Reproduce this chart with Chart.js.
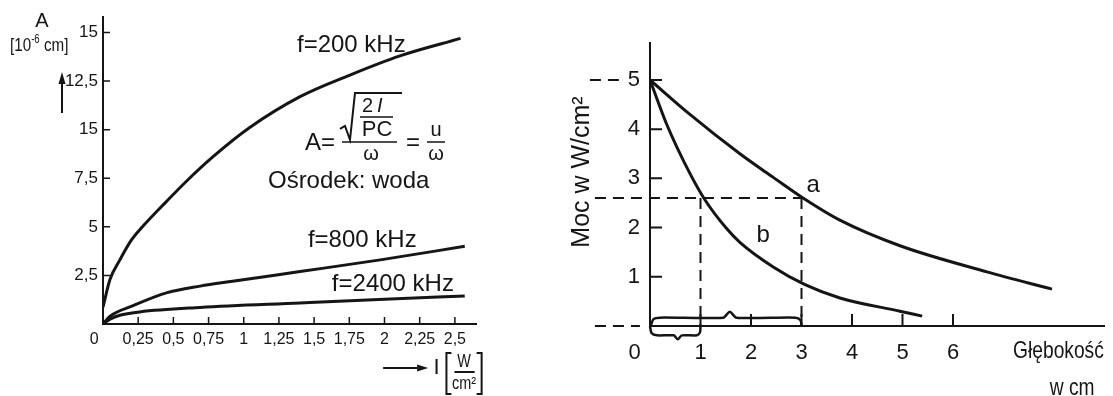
<!DOCTYPE html>
<html>
<head>
<meta charset="utf-8">
<script src="https://cdn.jsdelivr.net/npm/chart.js@4.4.1/dist/chart.umd.min.js"></script>
<style>
  html, body { margin: 0; padding: 0; background: #fff; }
  #wrap { position: relative; width: 1113px; height: 396px; overflow: hidden; }
  #lewy { position: absolute; left: 0; top: 0; }
  #prawy { position: absolute; left: 540px; top: 0; }
</style>
</head>
<body>
<div id="wrap">
  <canvas id="lewy" width="540" height="396"></canvas>
  <canvas id="prawy" width="573" height="396"></canvas>
</div>
<script>
// ---- dane: lewy wykres (amplituda A w funkcji natężenia I) ----
const serieLewe = ['f=200 kHz', 'f=800 kHz', 'f=2400 kHz'];

const natezenie200 = [0, 0.05, 0.12, 0.2, 0.28, 0.45, 0.6, 0.78, 1.04, 1.4, 1.75, 2.11, 2.54];
const amplituda200 = [0.87, 2.3, 3.3, 4.3, 5.0, 6.3, 7.4, 8.6, 10.1, 11.7, 12.8, 13.8, 14.7];

const natezenie800 = [0, 0.05, 0.21, 0.45, 0.69, 0.92, 1.4, 1.97, 2.57];
const amplituda800 = [0, 0.4, 0.93, 1.6, 1.95, 2.2, 2.7, 3.3, 4.0];

const natezenie2400 = [0, 0.05, 0.12, 0.26, 0.69, 1.4, 2.0, 2.57];
const amplituda2400 = [0, 0.25, 0.45, 0.62, 0.85, 1.08, 1.27, 1.44];

const tickiILewe = [0, 0.25, 0.5, 0.75, 1, 1.25, 1.5, 1.75, 2, 2.25, 2.5];
const etykietyILewe = ['0', '0,25', '0,5', '0,75', '1', '1,25', '1,5', '1,75', '2', '2,25', '2,5'];
const tickiALewe = [2.5, 5, 7.5, 10, 12.5, 15];
const etykietyALewe = ['2,5', '5', '7,5', '15', '12,5', '15'];

// ---- dane: prawy wykres (moc w funkcji głębokości) ----
const seriePrawe = ['a', 'b'];
const glebokoscA = [0, 0.79, 1.78, 2.44, 3.03, 3.76, 4.95, 6.67, 7.96];
const mocA = [5, 4.3, 3.5, 3.02, 2.6, 2.15, 1.63, 1.1, 0.75];
const glebokoscB = [0, 0.33, 0.79, 1.09, 1.5, 1.78, 2.44, 3.07, 3.76, 4.95, 5.39];
const mocB = [5, 4.1, 3.1, 2.56, 2.0, 1.7, 1.2, 0.84, 0.57, 0.3, 0.2];

// linie przerywane (prowadnice) i klamry przy osi głębokości
const prowadnica5X = [-1.19, -0.53];
const prowadnica5Y = [5, 5];
const prowadnicaPolX = [-1.09, 3];
const prowadnicaPolY = [2.6, 2.6];
const prowadnica0X = [-1.09, -0.2];
const prowadnica0Y = [0, 0];
const pion1X = [1, 1];
const pion3X = [3, 3];
const pionY = [2.6, 0];
const klamraGornaX = [0.02, 0.07, 0.2, 1.45, 1.58, 1.71, 2.88, 2.98, 3.0];
const klamraGornaY = [0.02, 0.14, 0.17, 0.17, 0.29, 0.17, 0.17, 0.12, 0.02];
const klamraDolnaX = [0.0, 0.03, 0.14, 0.47, 0.55, 0.63, 0.93, 0.99, 1.0];
const klamraDolnaY = [0.0, -0.14, -0.19, -0.19, -0.27, -0.19, -0.19, -0.13, 0.0];

const tickiGlebokosc = [0, 1, 2, 3, 4, 5, 6];
const etykietyGlebokosc = ['0', '1', '2', '3', '4', '5', '6'];
const tickiMoc = [1, 2, 3, 4, 5];
const etykietyMoc = ['1', '2', '3', '4', '5'];

// ---- wygląd ----
const INK = '#151515';
const SANS = "'Liberation Sans', Arial, sans-serif";

const punkty = (xs, ys) => xs.map((v, i) => ({ x: v, y: ys[i] }));

const krzywa = (label, xs, ys) => ({
  label, data: punkty(xs, ys),
  borderColor: INK, borderWidth: 3, pointRadius: 0,
  cubicInterpolationMode: 'monotone', fill: false
});

const przerywana = (xs, ys) => ({
  data: punkty(xs, ys),
  borderColor: INK, borderWidth: 2, borderDash: [11, 7],
  pointRadius: 0, tension: 0, clip: false, fill: false
});

const klamra = (xs, ys) => ({
  data: punkty(xs, ys),
  borderColor: INK, borderWidth: 2.5, pointRadius: 0,
  tension: 0.25, clip: false, fill: false
});

// krótkie kreski podziałki skierowane do wnętrza wykresu
const tickiDoSrodka = {
  id: 'tickiDoSrodka',
  afterDraw(chart, args, opts) {
    const { ctx, chartArea, scales: { x, y } } = chart;
    ctx.save();
    ctx.strokeStyle = INK;
    ctx.lineWidth = opts.width;
    ctx.beginPath();
    x.ticks.forEach(t => {
      if (t.value === 0) return;
      const px = x.getPixelForValue(t.value);
      ctx.moveTo(px, chartArea.bottom);
      ctx.lineTo(px, chartArea.bottom - opts.len);
    });
    y.ticks.forEach(t => {
      const py = y.getPixelForValue(t.value);
      ctx.moveTo(chartArea.left, py);
      ctx.lineTo(chartArea.left + opts.len, py);
    });
    ctx.stroke();
    ctx.restore();
  }
};

// tekst zwężony w poziomie (skan używa wąskiego kroju)
function waski(ctx, t, x, y, skala = 0.8) {
  ctx.save();
  ctx.translate(x, y);
  ctx.scale(skala, 1);
  ctx.fillText(t, 0, 0);
  ctx.restore();
  return ctx.measureText(t).width * skala;
}

function strzalka(ctx, x1, y1, x2, y2, grot) {
  const kat = Math.atan2(y2 - y1, x2 - x1);
  const bx = x2 - grot * Math.cos(kat), by = y2 - grot * Math.sin(kat);
  ctx.beginPath();
  ctx.moveTo(x1, y1);
  ctx.lineTo(bx, by);
  ctx.stroke();
  ctx.beginPath();
  ctx.moveTo(x2, y2);
  ctx.lineTo(bx + 3.5 * Math.sin(kat), by - 3.5 * Math.cos(kat));
  ctx.lineTo(bx - 3.5 * Math.sin(kat), by + 3.5 * Math.cos(kat));
  ctx.closePath();
  ctx.fill();
}

const opisyLewe = {
  id: 'opisyLewe',
  afterDraw(chart) {
    const { ctx, chartArea: ca, scales: { x, y } } = chart;
    ctx.save();
    ctx.fillStyle = INK;
    ctx.strokeStyle = INK;
    ctx.textBaseline = 'middle';

    // podpisy krzywych
    ctx.textAlign = 'left';
    ctx.font = `24px ${SANS}`;
    ctx.fillText(serieLewe[0], x.getPixelForValue(1.378), y.getPixelForValue(14.36));
    ctx.fillText(serieLewe[1], x.getPixelForValue(1.456), y.getPixelForValue(4.32));
    ctx.fillText(serieLewe[2], x.getPixelForValue(1.626), y.getPixelForValue(2.06));
    ctx.fillText('Ośrodek: woda', x.getPixelForValue(1.172), y.getPixelForValue(7.36));

    // wzór A = sqrt(2I/PC)/ω = u/ω
    const fx = x.getPixelForValue(1.435), fy = y.getPixelForValue(9.32);
    ctx.fillText('A=', fx, fy);
    ctx.lineWidth = 2;
    ctx.beginPath();
    ctx.moveTo(fx + 35, fy - 14);
    ctx.lineTo(fx + 40, fy - 17);
    ctx.lineTo(fx + 45, fy - 3);
    ctx.lineTo(fx + 50, fy - 50);
    ctx.lineTo(fx + 97, fy - 50);
    ctx.stroke();
    ctx.font = `20px ${SANS}`;
    ctx.fillText('2', fx + 57, fy - 36);
    ctx.font = `italic 20px ${SANS}`;
    ctx.fillText('I', fx + 72, fy - 36);
    ctx.lineWidth = 1.5;
    ctx.beginPath();
    ctx.moveTo(fx + 55, fy - 26); ctx.lineTo(fx + 88, fy - 26);
    ctx.moveTo(fx + 37, fy - 1); ctx.lineTo(fx + 92, fy - 1);
    ctx.moveTo(fx + 122, fy - 1); ctx.lineTo(fx + 140, fy - 1);
    ctx.stroke();
    ctx.textAlign = 'center';
    ctx.font = `22px ${SANS}`;
    ctx.fillText('PC', fx + 72, fy - 13);
    ctx.font = `20px ${SANS}`;
    ctx.fillText('ω', fx + 66, fy + 12);
    ctx.fillText('u', fx + 131, fy - 12);
    ctx.fillText('ω', fx + 131, fy + 12);
    ctx.font = `24px ${SANS}`;
    ctx.fillText('=', fx + 108, fy);

    // tytuł osi pionowej
    ctx.font = `20px ${SANS}`;
    ctx.fillText('A', ca.left - 61, 21);
    ctx.textAlign = 'left';
    ctx.font = `19px ${SANS}`;
    let px = ca.left - 93;
    px += waski(ctx, '[10', px, 46);
    ctx.font = `12px ${SANS}`;
    px += waski(ctx, '-6', px, 40);
    ctx.font = `19px ${SANS}`;
    waski(ctx, ' cm]', px, 46);
    ctx.lineWidth = 2;
    strzalka(ctx, ca.left - 41, 113, ca.left - 41, 72, 12);

    // tytuł osi poziomej: → I [W/cm²]
    const by = ca.bottom + 44;
    strzalka(ctx, x.getPixelForValue(1.99), by, x.getPixelForValue(2.31), by, 11);
    ctx.font = `22px ${SANS}`;
    ctx.textAlign = 'center';
    ctx.fillText('I', x.getPixelForValue(2.37), by);
    const nl = x.getPixelForValue(2.44), np = x.getPixelForValue(2.69);
    ctx.beginPath();
    ctx.moveTo(nl + 5, by - 15); ctx.lineTo(nl, by - 15); ctx.lineTo(nl, by + 26); ctx.lineTo(nl + 5, by + 26);
    ctx.moveTo(np - 5, by - 15); ctx.lineTo(np, by - 15); ctx.lineTo(np, by + 26); ctx.lineTo(np - 5, by + 26);
    ctx.moveTo(nl + 8, by + 4); ctx.lineTo(np - 7, by + 4);
    ctx.stroke();
    ctx.font = `18px ${SANS}`;
    waski(ctx, 'W', (nl + np) / 2, by - 6);
    waski(ctx, 'cm²', (nl + np) / 2, by + 16);
    ctx.restore();
  }
};

const opisyPrawe = {
  id: 'opisyPrawe',
  afterDraw(chart) {
    const { ctx, chartArea: ca, scales: { x, y } } = chart;
    ctx.save();
    ctx.fillStyle = INK;
    ctx.textBaseline = 'middle';
    ctx.textAlign = 'center';
    ctx.font = `24px ${SANS}`;
    ctx.fillText(seriePrawe[0], x.getPixelForValue(3.23), y.getPixelForValue(2.85));
    ctx.fillText(seriePrawe[1], x.getPixelForValue(2.24), y.getPixelForValue(1.85));

    ctx.save();
    ctx.translate(ca.left - 68, 172);
    ctx.rotate(-Math.PI / 2);
    ctx.font = `25px ${SANS}`;
    ctx.fillText('Moc w W/cm²', 0, 0);
    ctx.restore();

    ctx.font = `24px ${SANS}`;
    ctx.textAlign = 'left';
    waski(ctx, 'Głębokość', x.getPixelForValue(7.19), ca.bottom + 25);
    ctx.textAlign = 'center';
    waski(ctx, 'w cm', x.getPixelForValue(8.36), ca.bottom + 62);
    ctx.restore();
  }
};

// ---- lewy wykres ----
new Chart(document.getElementById('lewy'), {
  type: 'line',
  data: {
    datasets: [
      krzywa(serieLewe[0], natezenie200, amplituda200),
      krzywa(serieLewe[1], natezenie800, amplituda800),
      krzywa(serieLewe[2], natezenie2400, amplituda2400)
    ]
  },
  options: {
    responsive: false,
    animation: false,
    layout: { padding: { left: 0, top: 17, right: 64, bottom: 0 } },
    plugins: { legend: { display: false }, tooltip: { enabled: false }, tickiDoSrodka: { len: 7, width: 1.5 } },
    scales: {
      x: {
        type: 'linear', min: 0, max: 2.65,
        afterBuildTicks: s => { s.ticks = tickiILewe.map(v => ({ value: v })); },
        afterFit: s => { s.height = 72; },
        grid: { display: false, drawTicks: false },
        border: { color: INK, width: 2 },
        ticks: {
          autoSkip: false, maxRotation: 0, padding: 6, color: INK,
          font: { family: SANS, size: 16 },
          callback: (v, i) => i === 0 ? etykietyILewe[i] + '    ' : etykietyILewe[i]
        }
      },
      y: {
        type: 'linear', min: 0, max: 15.8,
        afterBuildTicks: s => { s.ticks = tickiALewe.map(v => ({ value: v })); },
        afterFit: s => { s.width = 103; },
        grid: { display: false, drawTicks: false },
        border: { color: INK, width: 2 },
        ticks: {
          padding: 5, color: INK,
          font: { family: SANS, size: 17 },
          callback: (v, i) => etykietyALewe[i]
        }
      }
    }
  },
  plugins: [tickiDoSrodka, opisyLewe]
});

// ---- prawy wykres ----
new Chart(document.getElementById('prawy'), {
  type: 'line',
  data: {
    datasets: [
      krzywa(seriePrawe[0], glebokoscA, mocA),
      krzywa(seriePrawe[1], glebokoscB, mocB),
      przerywana(prowadnica5X, prowadnica5Y),
      przerywana(prowadnicaPolX, prowadnicaPolY),
      przerywana(prowadnica0X, prowadnica0Y),
      przerywana(pion1X, pionY),
      przerywana(pion3X, pionY),
      klamra(klamraGornaX, klamraGornaY),
      klamra(klamraDolnaX, klamraDolnaY)
    ]
  },
  options: {
    responsive: false,
    animation: false,
    layout: { padding: { left: 0, top: 43, right: 8.5, bottom: 0 } },
    plugins: { legend: { display: false }, tooltip: { enabled: false }, tickiDoSrodka: { len: 12, width: 2 } },
    scales: {
      x: {
        type: 'linear', min: 0, max: 9,
        afterBuildTicks: s => { s.ticks = tickiGlebokosc.map(v => ({ value: v })); },
        afterFit: s => { s.height = 70; },
        grid: { display: false, drawTicks: false },
        border: { color: INK, width: 2 },
        ticks: {
          autoSkip: false, maxRotation: 0, padding: 14, color: INK,
          font: { family: SANS, size: 22 },
          callback: (v, i) => i === 0 ? etykietyGlebokosc[i] + '     ' : etykietyGlebokosc[i]
        }
      },
      y: {
        type: 'linear', min: 0, max: 5.75,
        afterBuildTicks: s => { s.ticks = tickiMoc.map(v => ({ value: v })); },
        afterFit: s => { s.width = 110; },
        grid: { display: false, drawTicks: false },
        border: { color: INK, width: 2 },
        ticks: {
          padding: 10, color: INK,
          font: { family: SANS, size: 22 },
          callback: (v, i) => etykietyMoc[i]
        }
      }
    }
  },
  plugins: [tickiDoSrodka, opisyPrawe]
});
</script>
</body>
</html>
